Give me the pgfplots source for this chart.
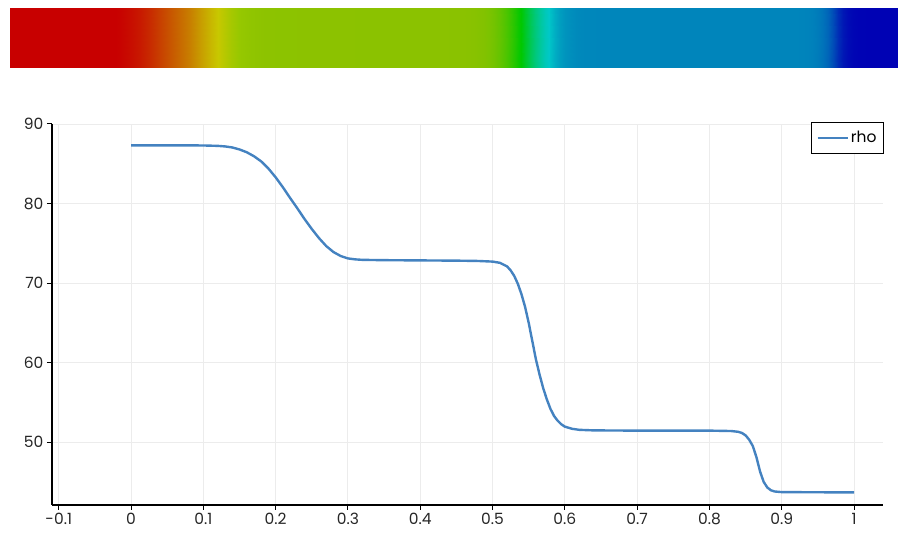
\documentclass[border=0pt]{standalone}
\usepackage{pgfplots}
\pgfplotsset{compat=1.18}
\usepackage{pgfplotstable}
\usepackage{fontspec}
\setmainfont{Poppins}
\definecolor{rholine}{RGB}{68,130,192}
\definecolor{gridc}{RGB}{236,236,236}

\pgfplotstableread{
x rho
0.000 87.32
0.050 87.32
0.100 87.30
0.120 87.25
0.130 87.18
0.140 87.05
0.150 86.80
0.160 86.45
0.170 85.95
0.180 85.30
0.190 84.40
0.200 83.30
0.210 82.05
0.220 80.70
0.230 79.40
0.240 78.05
0.250 76.80
0.260 75.65
0.270 74.65
0.280 73.90
0.290 73.40
0.300 73.10
0.310 72.98
0.320 72.92
0.350 72.88
0.400 72.85
0.450 72.82
0.480 72.78
0.500 72.70
0.510 72.55
0.520 72.10
0.525 71.60
0.530 70.90
0.535 69.90
0.540 68.60
0.545 67.00
0.550 65.00
0.555 62.70
0.560 60.40
0.565 58.50
0.570 56.80
0.575 55.40
0.580 54.20
0.585 53.30
0.590 52.70
0.595 52.25
0.600 51.95
0.610 51.68
0.620 51.55
0.640 51.48
0.700 51.45
0.800 51.45
0.830 51.40
0.840 51.30
0.845 51.15
0.850 50.85
0.855 50.30
0.860 49.50
0.865 48.10
0.870 46.30
0.875 45.00
0.880 44.30
0.885 43.95
0.890 43.80
0.900 43.72
0.950 43.70
1.000 43.68
}\rhodata

% bottom and top edge of the colour strip, built from the same rows
\gdef\stripA{}\gdef\stripB{}
\pgfplotstableforeachcolumnelement{rho}\of\rhodata\as\cellrho{%
  \pgfplotstablegetelem{\pgfplotstablerow}{x}\of\rhodata
  \let\cellx\pgfplotsretval
  \xdef\stripA{\stripA (\cellx,0,0) [\cellrho]}%
  \xdef\stripB{\stripB (\cellx,1,0) [\cellrho]}%
}

\pgfplotsset{
  colormap={rhomap}{
    rgb255(436pt)=(0,0,180)
    rgb255(516pt)=(0,136,187)
    rgb255(535pt)=(0,200,200)
    rgb255(620pt)=(0,200,0)
    rgb255(728pt)=(139,194,0)
    rgb255(740pt)=(150,200,0)
    rgb255(760pt)=(200,200,0)
    rgb255(795pt)=(200,128,0)
    rgb255(833pt)=(200,64,0)
    rgb255(866pt)=(200,0,0)
    rgb255(874pt)=(200,0,0)
  }
}

\begin{document}
\begin{tikzpicture}
\path[use as bounding box] (0,0) rectangle (898pt,533pt);

% colour strip
\begin{axis}[
  at={(10pt,465pt)}, anchor=south west,
  scale only axis, width=888pt, height=60pt,
  xmin=0.0515, xmax=0.929, ymin=0, ymax=1,
  view={0}{90},
  hide axis, colormap name=rhomap,
  point meta min=43.6, point meta max=87.4,
]
\edef\stripplot{\noexpand\addplot3[surf, shader=interp, mesh/rows=2, point meta=explicit] coordinates {\stripA\stripB};}
\stripplot
\end{axis}

% main plot
\begin{axis}[
  at={(52pt,28pt)}, anchor=south west,
  scale only axis, width=831pt, height=381pt,
  xmin=-0.1093, xmax=1.04, ymin=42.1, ymax=90,
  axis x line*=bottom, axis y line*=left,
  axis line style={-, black, line width=1.2pt},
  xtick={-0.1,0,0.1,0.2,0.3,0.4,0.5,0.6,0.7,0.8,0.9,1},
  ytick={50,60,70,80,90},
  tick align=outside, major tick length=5pt,
  tick style={black, line width=1pt},
  grid=major, grid style={gridc, line width=0.9pt},
  /pgf/number format/.cd, fixed, precision=1, assume math mode=true,
  /pgfplots/.cd,
  tick label style={font=\fontsize{15.5}{18}\selectfont, text=black!85},
  legend style={at={(1,1)}, anchor=north east, xshift=1pt, yshift=2pt,
    draw=black, font=\fontsize{15.5}{18}\selectfont,
    inner xsep=5pt, inner ysep=7pt},
  every axis legend/.append style={line width=0.9pt},
  legend cell align=left,
  legend image code/.code={\draw[rholine, line width=2.4pt] (0pt,0pt) -- (30pt,0pt);},
]
\addplot[rholine, line width=2.4pt, line join=round] table[x=x, y=rho] {\rhodata};
\addlegendentry{rho}
\end{axis}
\end{tikzpicture}
\end{document}
